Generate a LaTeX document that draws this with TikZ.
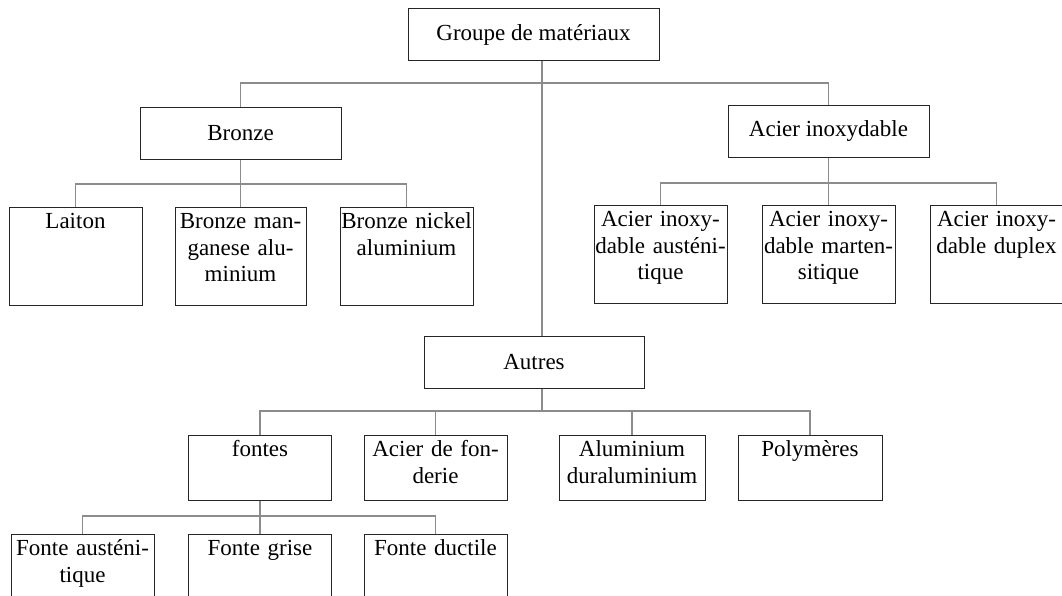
\documentclass[tikz,border=0pt]{standalone}
\usepackage{fontspec}
\setmainfont{Liberation Serif}
\usepackage{tikz}
\usetikzlibrary{positioning, calc}
\tikzset{
    group/.style={
        rectangle,
        draw=black!85,
        line width=1pt,
        minimum height=52pt,
        inner sep=0pt,
        fill=white,
        font=\fontsize{23}{26.7}\selectfont
    },
    leaf/.style={
        rectangle,
        draw=black!85,
        line width=1pt,
        inner sep=0pt,
        align=center,
        text height=21pt,
        text depth=77pt,
        fill=white,
        font=\fontsize{23}{26.7}\selectfont
    },
    shortleaf/.style={
        leaf,
        text depth=44pt
    },
    link/.style={
        draw=black!45,
        line width=1.5pt
    }
}

\begin{document}
\begin{tikzpicture}[x=1pt, y=1pt]
\useasboundingbox (0,0) rectangle (1062,-596);

% Root
\node[group, minimum width=251pt] (root) at (533.5,-34.5) {Groupe de mat\'eriaux};
\coordinate[xshift=8.5pt] (spine) at (root.south);

% First level
\node[group, minimum width=201pt, below=46pt of root, xshift=-293pt] (bronze) {Bronze};
\node[group, minimum width=201pt, below=44pt of root, xshift=295pt] (acier) {Acier inoxydable};
\node[group, minimum width=220pt, below=275pt of root, xshift=0.5pt] (autres) {Autres};

\draw[link] (bronze.north) -- ++(0,24) -| (acier.north);
\draw[link] (spine) -- (spine |- autres.north);

% Bronze family
\node[leaf, text width=133pt, below=47pt of bronze, xshift=-165pt] (laiton) {Laiton};
\node[leaf, text width=131pt, below=47pt of bronze] (bmang) {Bronze man-\\ganese alu-\\minium};
\node[leaf, text width=133pt, below=47pt of bronze, xshift=166pt] (bnickel) {\mbox{Bronze nickel}\\aluminium};

\draw[link] (laiton.north) -- ++(0,23) -| (bnickel.north);
\draw[link] (bronze.south) -- (bmang.north);

% Stainless steels
\node[leaf, text width=133pt, below=47pt of acier, xshift=-168pt] (aaust) {Acier inoxy-\\dable aust\'eni-\\tique};
\node[leaf, text width=133pt, below=47pt of acier] (amart) {Acier inoxy-\\dable marten-\\sitique};
\node[leaf, text width=133pt, below=47pt of acier, xshift=168pt] (aduplex) {Acier inoxy-\\dable duplex};

\draw[link] (aaust.north) -- ++(0,22) -| (aduplex.north);
\draw[link] (acier.south) -- (amart.north);

% Other materials
\node[shortleaf, text width=143pt, below=46pt of autres, xshift=-274pt] (fontes) {fontes};
\node[shortleaf, text width=143pt, below=46pt of autres, xshift=-98.5pt] (afond) {Acier de fon-\\derie};
\node[shortleaf, text width=146pt, below=46pt of autres, xshift=98pt] (alu) {Aluminium\\duraluminium};
\node[shortleaf, text width=144pt, below=46pt of autres, xshift=276pt] (polym) {Polym\`eres};

\draw[link] (fontes.north) -- ++(0,24) coordinate (othersbar) -| (polym.north);
\draw[link] (afond.north) -- (afond.north |- othersbar);
\draw[link] (alu.north) -- (alu.north |- othersbar);
\draw[link] (spine |- autres.south) -- (spine |- othersbar);

% Cast irons
\node[leaf, text width=143pt, below=33pt of fontes, xshift=-177.5pt] (faust) {Fonte aust\'eni-\\tique};
\node[leaf, text width=143pt, below=33pt of fontes] (fgrise) {Fonte grise};
\node[leaf, text width=143pt, below=33pt of fontes, xshift=175.5pt] (fductile) {Fonte ductile};

\draw[link] (faust.north) -- ++(0,18) -| (fductile.north);
\draw[link] (fontes.south) -- (fgrise.north);

\end{tikzpicture}
\end{document}
